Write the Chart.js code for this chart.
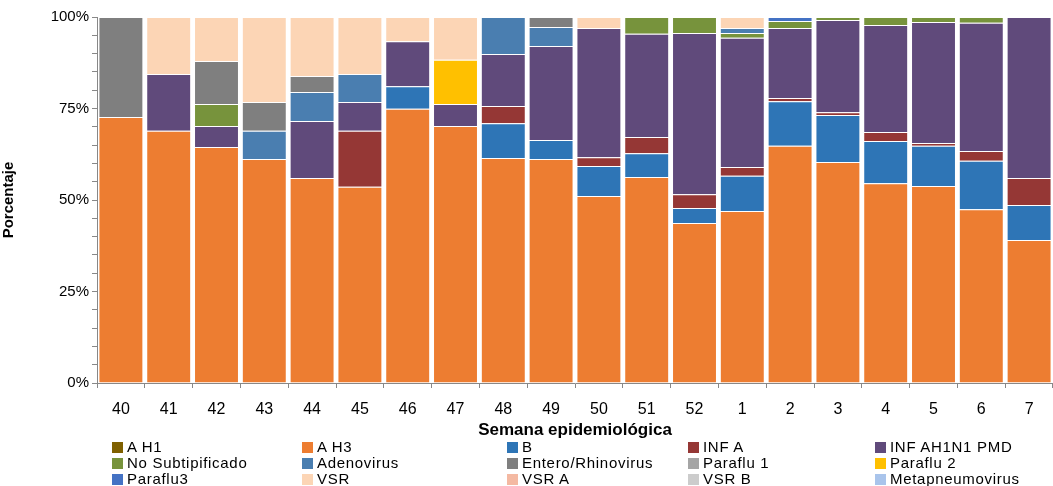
<!DOCTYPE html>
<html>
<head>
<meta charset="utf-8">
<script src="https://cdn.jsdelivr.net/npm/chart.js@4"></script>
<style>
  body { margin: 0; background: #fff; font-family: "Liberation Sans", Arial, sans-serif; }
  #wrap { position: relative; width: 1053px; height: 486px; }
  #box { position: absolute; left: 0; top: 0; width: 1053px; height: 441px; }
  #legend { position: absolute; left: 112px; top: 439px; display: grid;
    grid-template-columns: 190px 205px 181px 187px 180px; font-size: 15px; letter-spacing: 0.7px; color: #000; }
  #legend div { height: 16px; line-height: 16px; white-space: nowrap; }
  #legend span { display: inline-block; width: 11px; height: 11px; margin-right: 4px; vertical-align: -1px; }
</style>
</head>
<body>
<div id="wrap">
  <div id="box"><canvas id="myChart"></canvas></div>
  <div id="legend"></div>
</div>
<script>
// semanas epidemiologicas
const categories = ["40","41","42","43","44","45","46","47","48","49","50","51","52","1","2","3","4","5","6","7"];

const aH1       = [0,0,0,0,0,0,0,0,0,0,0,0,0,0,0,0,0,0,0,0];
const aH3       = [72.7,68.9,64.5,61.2,56.0,53.6,74.9,70.2,61.5,61.2,51.1,56.3,43.7,47.0,64.8,60.4,54.6,53.8,47.5,39.1];
const infB      = [0,0,0,0,0,0,6.2,0,9.5,5.2,8.2,6.5,4.1,9.6,12.2,12.8,11.5,11.0,13.2,9.5];
const infA      = [0,0,0,0,0,15.3,0,0,4.7,0,2.4,4.4,3.8,2.4,0.9,0.8,2.5,0.8,2.7,7.4];
const ah1n1     = [0,15.5,5.7,0,15.6,7.9,12.3,6.0,14.2,25.7,35.3,28.2,44.0,35.3,19.1,25.2,29.2,33.0,35.0,44.0];
const noSubtip  = [0,0,6.0,0,0,0,0,0,0,0,0,4.6,4.4,1.3,1.9,0.8,2.2,1.4,1.6,0];
const adeno     = [0,0,0,7.7,7.9,7.6,0,0,10.1,5.2,0,0,0,1.4,0,0,0,0,0,0];
const entero    = [27.3,0,11.8,7.9,4.4,0,0,0,0,2.7,0,0,0,0,0,0,0,0,0,0];
const paraflu1  = [0,0,0,0,0,0,0,0,0,0,0,0,0,0,0,0,0,0,0,0];
const paraflu2  = [0,0,0,0,0,0,0,12.1,0,0,0,0,0,0,0,0,0,0,0,0];
const paraflu3  = [0,0,0,0,0,0,0,0,0,0,0,0,0,0,1.1,0,0,0,0,0];
const vsr       = [0,15.6,12.0,23.2,16.1,15.6,6.6,11.7,0,0,3.0,0,0,3.0,0,0,0,0,0,0];
const vsrA      = [0,0,0,0,0,0,0,0,0,0,0,0,0,0,0,0,0,0,0,0];
const vsrB      = [0,0,0,0,0,0,0,0,0,0,0,0,0,0,0,0,0,0,0,0];
const metapneu  = [0,0,0,0,0,0,0,0,0,0,0,0,0,0,0,0,0,0,0,0];

const yTicks = [0, 25, 50, 75, 100];

const series = [
  { label: "A H1", data: aH1, color: "#7F6000" },
  { label: "A H3", data: aH3, color: "#ED7D31" },
  { label: "B", data: infB, color: "#2E75B6" },
  { label: "INF A", data: infA, color: "#953735" },
  { label: "INF AH1N1 PMD", data: ah1n1, color: "#604A7B" },
  { label: "No Subtipificado", data: noSubtip, color: "#77933C" },
  { label: "Adenovirus", data: adeno, color: "#4A7EB0" },
  { label: "Entero/Rhinovirus", data: entero, color: "#7F7F7F" },
  { label: "Paraflu 1", data: paraflu1, color: "#A5A5A5" },
  { label: "Paraflu 2", data: paraflu2, color: "#FFC000" },
  { label: "Paraflu3", data: paraflu3, color: "#4472C4" },
  { label: "VSR", data: vsr, color: "#FCD5B5" },
  { label: "VSR A", data: vsrA, color: "#F4B9A2" },
  { label: "VSR B", data: vsrB, color: "#CCCCCC" },
  { label: "Metapneumovirus", data: metapneu, color: "#A9C4EB" },
];

const data = {
  labels: categories,
  datasets: series.map((s) => ({
    label: s.label,
    data: s.data,
    backgroundColor: s.color,
    borderColor: "rgba(255,255,255,0.45)",
    borderWidth: 1,
    barPercentage: 0.94,
    categoryPercentage: 1.0,
  })),
};

const config = {
  type: "bar",
  data: data,
  options: {
    responsive: true,
    maintainAspectRatio: false,
    animation: false,
    layout: { padding: { top: 17, right: 0, left: 0, bottom: 0 } },
    plugins: {
      legend: { display: false },
      tooltip: { enabled: false },
    },
    scales: {
      x: {
        stacked: true,
        grid: { display: true, drawOnChartArea: false, drawTicks: true, tickLength: 5, color: "#888" },
        border: { display: true, color: "#888" },
        ticks: { color: "#000", font: { size: 16, family: "Liberation Sans" }, padding: 12 },
        title: {
          display: true,
          text: "Semana epidemiológica",
          color: "#000",
          font: { size: 17, weight: "bold", family: "Liberation Sans" },
          padding: { top: 0, bottom: 0 },
        },
        afterFit: (scale) => { scale.height = 58; },
      },
      y: {
        stacked: true,
        min: 0,
        max: 100,
        grid: { display: true, drawOnChartArea: false, drawTicks: true, tickLength: 5, color: "#888" },
        border: { display: true, color: "#888" },
        ticks: {
          stepSize: 5,
          autoSkip: false,
          color: "#000",
          font: { size: 15, family: "Liberation Sans" },
          callback: (v) => (yTicks.includes(v) ? v + "%" : ""),
        },
        title: {
          display: true,
          text: "Porcentaje",
          color: "#000",
          font: { size: 15, weight: "bold", family: "Liberation Sans" },
          padding: { top: 0, bottom: 6 },
        },
        afterFit: (scale) => { scale.width = 97; },
      },
    },
  },
};

const myChart = new Chart(document.getElementById("myChart"), config);

// leyenda en 5 columnas
const legendEl = document.getElementById("legend");
series.forEach((s) => {
  const item = document.createElement("div");
  item.innerHTML = '<span style="background:' + s.color + '"></span>' + s.label;
  legendEl.appendChild(item);
});
</script>
</body>
</html>
